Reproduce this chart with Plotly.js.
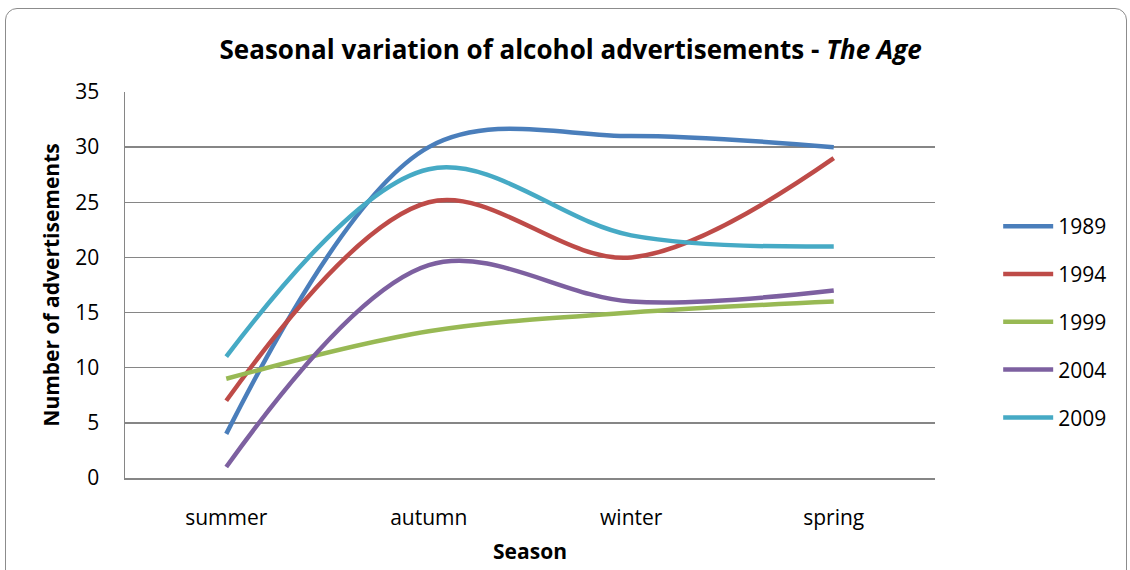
<!DOCTYPE html>
<html>
<head>
<meta charset="utf-8">
<script src="https://cdn.plot.ly/plotly-3.0.1.min.js"></script>
<style>
html,body{margin:0;padding:0;background:#fff;}
#wrap{position:relative;width:1130px;height:570px;overflow:hidden;}
#frame{position:absolute;left:5px;top:8px;width:1122px;height:580px;border:1.5px solid #8c8c8c;border-radius:12px;box-sizing:border-box;pointer-events:none;}
#chart{position:absolute;left:0;top:0;width:1130px;height:570px;}
</style>
</head>
<body>
<div id="wrap"><div id="chart"></div><div id="frame"></div></div>
<script>
const seasons = ["summer", "autumn", "winter", "spring"];
const years = ["1989", "1994", "1999", "2004", "2009"];
const s1989 = [4, 30, 31, 30];
const s1994 = [7, 25, 20, 29];
const s1999 = [9, 13.3, 15, 16];
const s2004 = [1, 19.3, 16, 17];
const s2009 = [11, 28, 22, 21];
const colors = ["#4A7EBB", "#BE4B48", "#98B954", "#7D60A0", "#46AAC5"];
const series = [s1989, s1994, s1999, s2004, s2009];

const fontFam = "'Open Sans', Lato, sans-serif";
const traces = series.map((vals, i) => ({
  x: seasons, y: vals, type: "scatter", mode: "lines", name: years[i],
  legendgroup: years[i],
  line: {color: colors[i], width: 4.5, shape: "spline", smoothing: 1}
}));

const layout = {
  width: 1130, height: 570,
  margin: {l: 125, r: 195, t: 92, b: 92},
  paper_bgcolor: "#fff", plot_bgcolor: "#fff",
  font: {family: fontFam, color: "#000", size: 21},
  title: {text: "<b>Seasonal variation of alcohol advertisements - <i>The Age</i></b>",
          font: {size: 26, family: fontFam, color: "#000"}, x: 0.505, xanchor: "center", y: 0.912, yanchor: "middle"},
  xaxis: {
    type: "category", range: [-0.5, 3.5], showgrid: false, showline: true, linecolor: "#868686", linewidth: 1.5,
    ticks: "", ticklabelstandoff: 20, tickfont: {size: 21},
    title: {text: "<b>Season</b>", font: {size: 21}, standoff: 14}
  },
  yaxis: {
    range: [0, 35], dtick: 5, showgrid: true, gridcolor: "#868686", gridwidth: 1.5,
    showline: true, linecolor: "#868686", linewidth: 1.5, zeroline: false,
    ticks: "", ticklabelstandoff: 20, tickfont: {size: 21},
    title: {text: "<b>Number of advertisements</b>", font: {size: 21}, standoff: 10}
  },
  legend: {x: 1.078, xanchor: "left", y: 0.404, yanchor: "middle", traceorder: "grouped", tracegroupgap: 17.5,
           font: {size: 21}, itemwidth: 50, bgcolor: "rgba(0,0,0,0)"},
  showlegend: true
};
Plotly.newPlot("chart", traces, layout, {displayModeBar: false, staticPlot: true});
</script>
</body>
</html>
